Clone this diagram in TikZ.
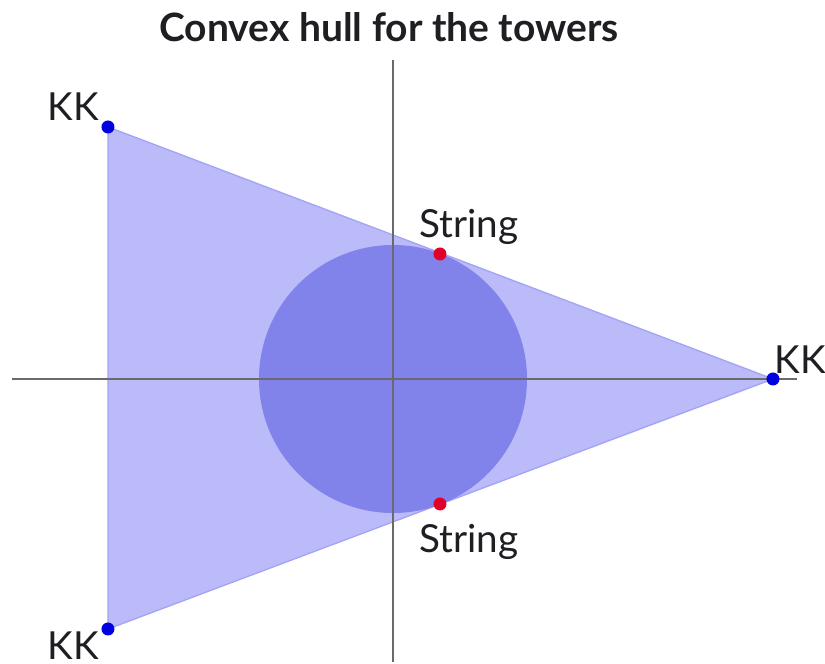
\documentclass[tikz,border=0pt]{standalone}
\usepackage{fontspec}
\setmainfont{Lato}
\definecolor{hullfill}{RGB}{187,187,250}
\definecolor{hulledge}{RGB}{165,165,245}
\definecolor{diskfill}{RGB}{130,130,235}
\definecolor{axisgray}{RGB}{105,105,110}
\definecolor{kkblue}{RGB}{0,0,225}
\definecolor{strred}{RGB}{225,0,40}
\definecolor{txt}{RGB}{30,30,35}
\tikzset{
  tower/.style={circle,fill=#1,inner sep=0pt,minimum size=0.13cm},
  lbl/.style={text=txt,font=\fontsize{11}{13}\selectfont}
}
\begin{document}
\begin{tikzpicture}[scale=1.0]
\useasboundingbox (-3.93,-2.85) rectangle (4.32,3.79);
\node[text=txt,font=\bfseries\fontsize{11.1}{14}\selectfont] (title) at (-0.04,3.52) {Convex hull for the towers};

% hull and disk
\coordinate (kkA) at (-2.85,2.52);
\coordinate (kkB) at (3.80,0.0);
\coordinate (kkC) at (-2.85,-2.50);
\fill[hullfill,draw=hulledge,line width=0.4pt] (kkA) -- (kkB) -- (kkC) -- cycle;
\fill[diskfill] (0,0) circle (1.34);

% axes
\coordinate (xl) at (-3.81,0.0);
\coordinate (xr) at (4.04,0.0);
\coordinate (yb) at (0.0,-2.83);
\coordinate (yt) at (0.0,3.19);
\draw[axisgray,line width=0.8pt] (xl) -- (xr);
\draw[axisgray,line width=0.8pt] (yb) -- (yt);

% towers
\node[tower=kkblue] (ka) at (kkA) {};
\node[tower=kkblue] (kb) at (kkB) {};
\node[tower=kkblue] (kc) at (kkC) {};
\node[tower=strred] (sa) at (0.47,1.25) {};
\node[tower=strred] (sb) at (0.47,-1.25) {};

\node[lbl] at (-3.20,2.72) {KK};
\node[lbl] at (4.07,0.19) {KK};
\node[lbl] at (-3.20,-2.67) {KK};
\node[lbl] at (0.76,1.52) {String};
\node[lbl] at (0.76,-1.63) {String};
\end{tikzpicture}
\end{document}
